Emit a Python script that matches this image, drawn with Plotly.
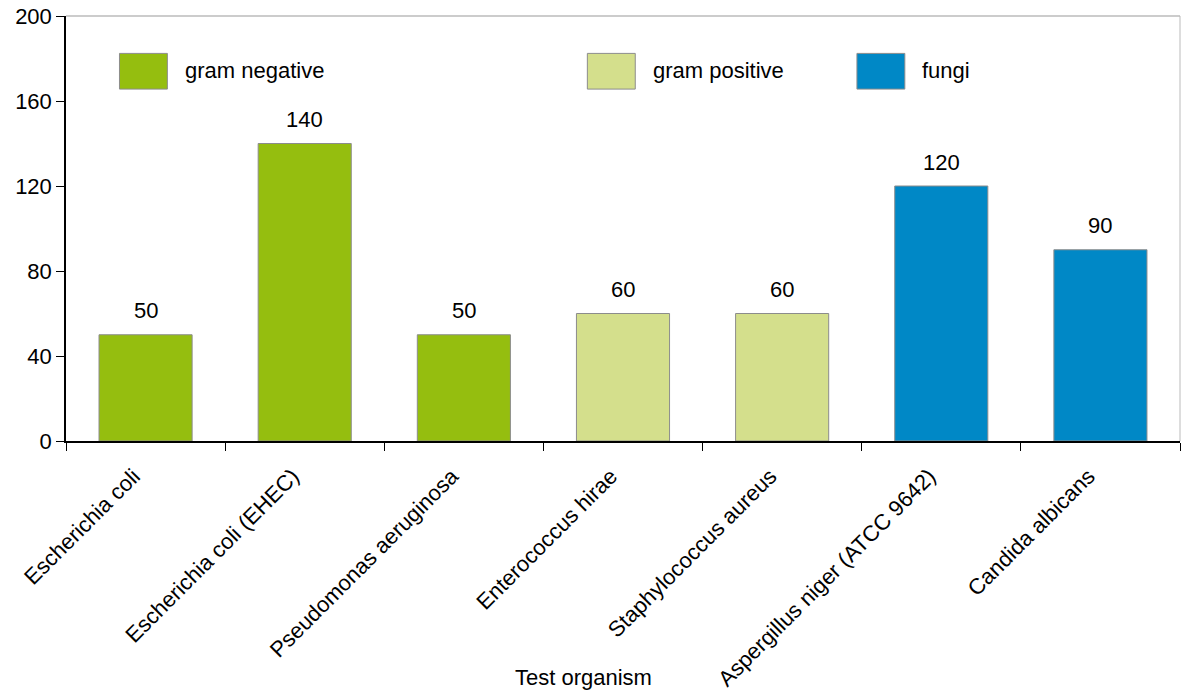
import plotly.graph_objects as go

organisms = [
    "Escherichia coli",
    "Escherichia coli (EHEC)",
    "Pseudomonas aeruginosa",
    "Enterococcus hirae",
    "Staphylococcus aureus",
    "Aspergillus niger (ATCC 9642)",
    "Candida albicans",
]
values = [50, 140, 50, 60, 60, 120, 90]
groups = ["gram negative", "gram negative", "gram negative",
          "gram positive", "gram positive", "fungi", "fungi"]

group_names = ["gram negative", "gram positive", "fungi"]
group_colors = {"gram negative": "#95BE0F", "gram positive": "#D4DF8C", "fungi": "#0088C6"}

y_ticks = [0, 40, 80, 120, 160, 200]

FONT = "Liberation Sans, Arial, sans-serif"
FS = 22

fig = go.Figure()
fig.add_trace(go.Bar(
    x=organisms,
    y=values,
    marker=dict(color=[group_colors[g] for g in groups],
                line=dict(color="#8C8C8C", width=1)),
    showlegend=False,
    hoverinfo="x+y",
))

# value labels above each bar
for name, v in zip(organisms, values):
    fig.add_annotation(x=name, y=v, text=str(v), showarrow=False,
                       yanchor="middle", yshift=24,
                       font=dict(family=FONT, size=FS, color="#000000"))

# legend drawn inside the plot area
legend_x = [0.048, 0.468, 0.710]
for gx, g in zip(legend_x, group_names):
    fig.add_shape(type="rect", xref="paper", yref="paper",
                  x0=gx, x1=gx + 0.043, y0=0.828, y1=0.912,
                  fillcolor=group_colors[g], line=dict(color="#8C8C8C", width=1))
    fig.add_annotation(xref="paper", yref="paper", x=gx + 0.057, y=0.872,
                       text=g, showarrow=False, xanchor="left", yanchor="middle",
                       font=dict(family=FONT, size=FS, color="#000000"))

# right and top frame lines
fig.add_shape(type="line", xref="paper", yref="paper", x0=0, x1=1, y0=1, y1=1,
              line=dict(color="#BBBBBB", width=1.5))
fig.add_shape(type="line", xref="paper", yref="paper", x0=1, x1=1, y0=0, y1=1,
              line=dict(color="#BBBBBB", width=1))

fig.add_annotation(xref="paper", yref="paper", x=(583 - 66) / 1114, y=-0.556,
                   text="Test organism", showarrow=False,
                   xanchor="center", yanchor="middle",
                   font=dict(family=FONT, size=FS, color="#000000"))

fig.update_layout(
    width=1184, height=692,
    margin=dict(l=66, r=4, t=16, b=251),
    paper_bgcolor="white", plot_bgcolor="white",
    bargap=0.415,
    font=dict(family=FONT, size=FS, color="#000000"),
    xaxis=dict(
        automargin=False,
        tickangle=-45, tickson="boundaries", ticks="outside", ticklen=8,
        ticklabelstandoff=12, ticklabelshift=-12,
        tickcolor="#000000", showline=True, linecolor="#000000", linewidth=1.5,
        showgrid=False, tickfont=dict(family=FONT, size=FS, color="#000000"),
    ),
    yaxis=dict(
        automargin=False,
        range=[0, 200], tickvals=y_ticks, ticks="outside", ticklen=8,
        tickcolor="#000000", showline=True, linecolor="#000000", linewidth=1.5,
        showgrid=False, zeroline=False,
        tickfont=dict(family=FONT, size=FS, color="#000000"),
    ),
)

fig.write_html("out.html")
